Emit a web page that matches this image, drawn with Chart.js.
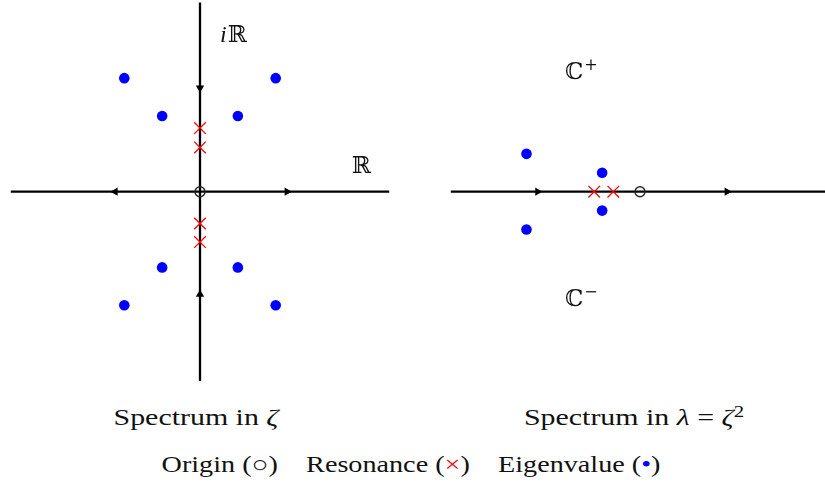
<!DOCTYPE html>
<html>
<head>
<meta charset="utf-8">
<script src="https://cdn.jsdelivr.net/npm/chart.js@4.4.1/dist/chart.umd.min.js"></script>
<style>
  html, body { margin: 0; padding: 0; background: #ffffff; }
  body { width: 825px; height: 489px; position: relative; overflow: hidden; }
  canvas { position: absolute; top: 0; }
  #cz { left: 0px; }
  #cl { left: 420px; }
  .cap {
    position: absolute; white-space: nowrap;
    font-family: "Liberation Serif", serif;
    font-size: 23px; line-height: 23px; color: #111;
    transform: translateX(-50%) scaleX(1.3);
  }
  .leg { transform: translateX(-50%) scaleX(1.225); }
  .cap i { font-style: italic; }
  .red { color: #ff0000; }
  .blue { color: #0000ff; }
</style>
</head>
<body>
<canvas id="cz" width="410" height="400"></canvas>
<canvas id="cl" width="405" height="400"></canvas>
<div class="cap" style="left:196px; top:406px;">Spectrum in <i>ζ</i></div>
<div class="cap" style="left:634px; top:406px;">Spectrum in <i>λ</i> = <i>ζ</i><sup style="font-size:16px; vertical-align: 8px; line-height:0;">2</sup></div>
<div class="cap leg" style="left:411px; top:453px;">Origin (○)&nbsp;&nbsp;&nbsp; Resonance (<span class="red">×</span>)&nbsp;&nbsp;&nbsp; Eigenvalue (<span class="blue">•</span>)</div>
<script>
// ---------- data: spectrum in zeta ----------
const zetaEigenRe = [-2, 2, -1, 1, -1, 1, -2, 2];
const zetaEigenIm = [3, 3, 2, 2, -2, -2, -3, -3];
const zetaResRe = [0, 0, 0, 0];
const zetaResIm = [1.68, 1.17, -0.84, -1.33];
const zetaOrigin = [0, 0];
const zetaAxisRange = [-5, 5];
const zetaArrowHx = [-2.24, 2.30];      // arrows on real axis
const zetaArrowHrot = [270, 90];        // left, right
const zetaArrowVy = [2.74, -2.71];      // arrows on imaginary axis
const zetaArrowVrot = [180, 0];         // down, up

// ---------- data: spectrum in lambda = zeta^2 ----------
const lamEigenRe = [-6, -2, -2, -6];
const lamEigenIm = [2, 1, -1, -2];
const lamResRe = [-2.42, -1.41];
const lamResIm = [0, 0];
const lamOrigin = [0, 0];
const lamAxisRange = [-10, 10];
const lamArrowX = [-5.41, 4.60];
const lamArrowRot = [90, 90];

const zip = (xs, ys) => xs.map((x, i) => ({ x: x, y: ys[i] }));

const labelPlugin = {
  id: 'labels',
  afterDatasetsDraw(chart, args, opts) {
    const ctx = chart.ctx;
    const sx = chart.scales.x, sy = chart.scales.y;
    ctx.save();
    ctx.fillStyle = '#111';
    ctx.textBaseline = 'alphabetic';
    ctx.textAlign = 'left';
    (opts.items || []).forEach(it => {
      let px = sx.getPixelForValue(it.x);
      const py = sy.getPixelForValue(it.y);
      it.parts.forEach(p => {
        ctx.font = p.font;
        ctx.fillText(p.t, px, py - (p.rise || 0));
        px += ctx.measureText(p.t).width + (p.gap || 0);
      });
    });
    ctx.restore();
  }
};

function makeChart(id, cfg) {
  const ux = cfg.unit, uy = cfg.unit;
  const W = cfg.W, H = cfg.H, cx = cfg.cx, cy = cfg.cy;
  return new Chart(document.getElementById(id), {
    type: 'scatter',
    data: { datasets: cfg.datasets },
    options: {
      responsive: false,
      animation: false,
      events: [],
      layout: { padding: 0, autoPadding: false },
      scales: {
        x: { type: 'linear', display: false, min: -cx / ux, max: (W - cx) / ux },
        y: { type: 'linear', display: false, min: (cy - H) / uy, max: cy / uy }
      },
      plugins: { legend: { display: false }, tooltip: { enabled: false }, labels: { items: cfg.labels } }
    },
    plugins: [labelPlugin]
  });
}

const axisStyle = { showLine: true, borderColor: '#000', borderWidth: 2.3, pointRadius: 0, order: 10, clip: false };
const arrowStyle = { pointStyle: 'triangle', pointRadius: 4.8, backgroundColor: '#000', borderColor: '#000', borderWidth: 0, order: 5, clip: false };
const eigenStyle = { pointStyle: 'circle', pointRadius: 5.3, backgroundColor: '#0000ff', borderColor: '#0000ff', borderWidth: 0, order: 1 };
const resStyle = { pointStyle: 'crossRot', pointRadius: 8.2, borderColor: '#ff0000', borderWidth: 1.3, order: 1 };
const originStyle = { pointStyle: 'circle', pointRadius: 5, backgroundColor: 'rgba(0,0,0,0)', borderColor: '#222', borderWidth: 1.4, order: 0 };

const bbFont = '23px "DejaVu Serif", "DejaVu Sans", serif';
const itFont = 'italic 24px "Liberation Serif", serif';
const supFont = '16px "DejaVu Serif", "DejaVu Sans", serif';

makeChart('cz', {
  W: 410, H: 400, cx: 200, cy: 191.7, unit: 37.85,
  datasets: [
    Object.assign({ data: zip(zetaAxisRange, [0, 0]) }, axisStyle),
    Object.assign({ data: zip([0, 0], zetaAxisRange) }, axisStyle),
    Object.assign({ data: zip(zetaArrowHx, [0, 0]), rotation: zetaArrowHrot }, arrowStyle),
    Object.assign({ data: zip([0, 0], zetaArrowVy), rotation: zetaArrowVrot }, arrowStyle),
    Object.assign({ data: zip(zetaEigenRe, zetaEigenIm) }, eigenStyle),
    Object.assign({ data: zip(zetaResRe, zetaResIm) }, resStyle),
    Object.assign({ data: [{ x: zetaOrigin[0], y: zetaOrigin[1] }] }, originStyle)
  ],
  labels: [
    { x: 0.53, y: 3.96, parts: [{ t: 'i', font: itFont, gap: 1 }, { t: 'ℝ', font: bbFont }] },
    { x: 4.01, y: 0.49, parts: [{ t: 'ℝ', font: bbFont }] }
  ]
});

makeChart('cl', {
  W: 405, H: 400, cx: 220, cy: 191.7, unit: 18.92,
  datasets: [
    Object.assign({ data: zip(lamAxisRange, [0, 0]) }, axisStyle),
    Object.assign({ data: zip(lamArrowX, [0, 0]), rotation: lamArrowRot }, arrowStyle),
    Object.assign({ data: zip(lamEigenRe, lamEigenIm) }, eigenStyle),
    Object.assign({ data: zip(lamResRe, lamResIm) }, resStyle),
    Object.assign({ data: [{ x: lamOrigin[0], y: lamOrigin[1] }] }, originStyle)
  ],
  labels: [
    { x: -3.97, y: 5.96, parts: [{ t: 'ℂ', font: bbFont, gap: 1 }, { t: '+', font: supFont, rise: 9 }] },
    { x: -3.97, y: -6.05, parts: [{ t: 'ℂ', font: bbFont, gap: 1 }, { t: '−', font: supFont, rise: 9 }] }
  ]
});
</script>
</body>
</html>
